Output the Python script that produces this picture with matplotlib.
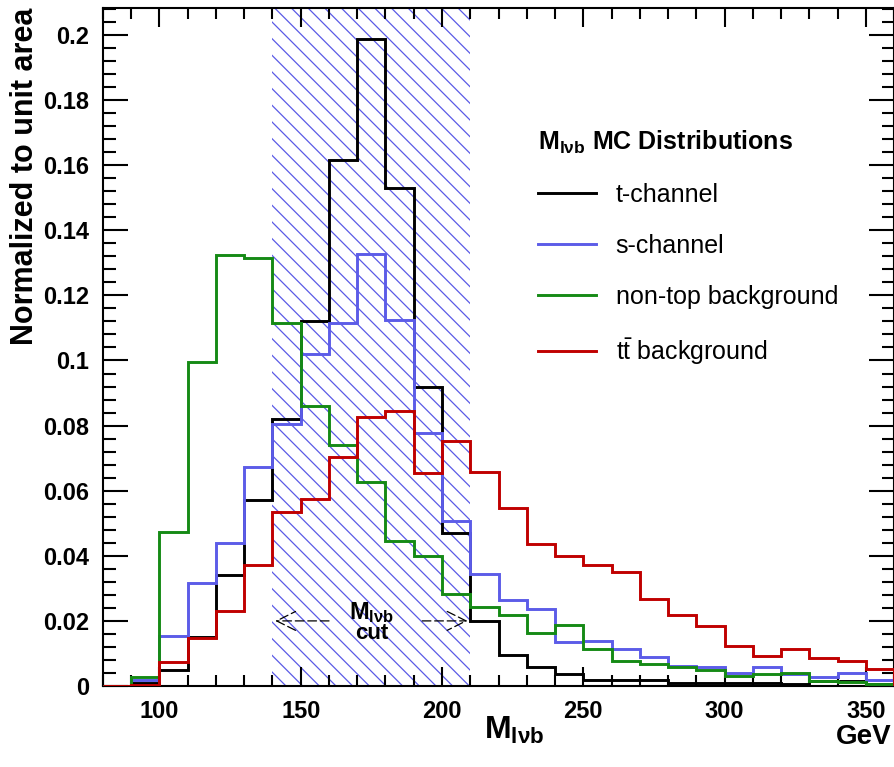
import numpy as np
import matplotlib
matplotlib.use("Agg")
import matplotlib.pyplot as plt
from matplotlib.patches import Rectangle

plt.rcParams['font.family'] = ['Liberation Sans', 'DejaVu Sans']
plt.rcParams['mathtext.fontset'] = 'custom'
plt.rcParams['mathtext.rm'] = 'Liberation Sans'
plt.rcParams['mathtext.bf'] = 'Liberation Sans:bold'
plt.rcParams['mathtext.it'] = 'Liberation Sans:italic'
plt.rcParams['hatch.linewidth'] = 0.9

# bin edges 80..360 GeV, 10 GeV wide
edges = np.arange(80, 361, 10)

t_channel = [0.0, 0.001, 0.005, 0.015, 0.034, 0.057, 0.082, 0.112, 0.1616, 0.1988,
             0.153, 0.092, 0.047, 0.020, 0.0095, 0.0057, 0.0037, 0.0018, 0.0018, 0.0018,
             0.0009, 0.0009, 0.0009, 0.0009, 0.0007, 0.0015, 0.0015, 0.0005]
s_channel = [0.0, 0.0018, 0.0154, 0.0315, 0.044, 0.0672, 0.0804, 0.102, 0.1114, 0.1327,
             0.1124, 0.0776, 0.0508, 0.0344, 0.0264, 0.0236, 0.0134, 0.0138, 0.0113, 0.009,
             0.0062, 0.0057, 0.0041, 0.0057, 0.0037, 0.0029, 0.0041, 0.0018]
non_top = [0.0, 0.0029, 0.0474, 0.0996, 0.1324, 0.1314, 0.1116, 0.086, 0.074, 0.0628,
           0.0446, 0.040, 0.0282, 0.0244, 0.0218, 0.0162, 0.0187, 0.0114, 0.0078, 0.0068,
           0.0058, 0.0049, 0.0032, 0.0036, 0.0041, 0.0016, 0.0013, 0.0005]
ttbar = [0.0, 0.0003, 0.0073, 0.0146, 0.023, 0.0372, 0.0536, 0.0573, 0.0705, 0.0827,
         0.0846, 0.0653, 0.0754, 0.0658, 0.0546, 0.0435, 0.040, 0.0372, 0.0351, 0.0266,
         0.0218, 0.0185, 0.0124, 0.0092, 0.0114, 0.0085, 0.0078, 0.0051]

labels = ['t-channel', 's-channel', 'non-top background', r't$\bar{\rm t}$ background']
colors = ['#000000', '#5c5ce8', '#158a15', '#c00000']
cut_lo, cut_hi = 140, 210

fig = plt.figure(figsize=(8.95, 7.67), dpi=100)
ax = fig.add_axes([0.115, 0.1056, 0.884, 0.884])

# cut window
ax.add_patch(Rectangle((cut_lo, 0), cut_hi - cut_lo, 1, fill=False, hatch='\\\\',
                       edgecolor='#5a5ae6', linewidth=0, zorder=1))

for vals, lab, col in zip([t_channel, s_channel, non_top, ttbar], labels, colors):
    ax.stairs(vals, edges, color=col, linewidth=2.1, label=lab, zorder=3)

# cut annotation
ax.text(175, 0.0225, r'$\mathbf{M}_{\mathbf{l\nu b}}$', ha='center', va='center', fontsize=17, zorder=4)
ax.text(175, 0.0160, 'cut', ha='center', va='center', fontsize=16, fontweight='bold', zorder=4)
arrow = dict(arrowstyle='->', linestyle=(0, (7, 3)), linewidth=0.9, color='black',
             mutation_scale=34)
ax.annotate('', xy=(140, 0.02), xytext=(161, 0.02), arrowprops=arrow, zorder=4)
ax.annotate('', xy=(210, 0.02), xytext=(192, 0.02), arrowprops=arrow, zorder=4)

ax.set_xlim(80, 360)
ax.set_ylim(0, 0.2083)
ax.set_xticks([100, 150, 200, 250, 300, 350])
ax.set_xticks(np.arange(80, 361, 10), minor=True)
ax.set_yticks(np.arange(0, 0.201, 0.02))
ax.set_yticks(np.arange(0, 0.2081, 0.004), minor=True)
ax.set_yticklabels(['0', '0.02', '0.04', '0.06', '0.08', '0.1', '0.12', '0.14',
                    '0.16', '0.18', '0.2'])

ax.tick_params(which='both', direction='in', top=True, right=True, width=1.5,
               labelsize=17, colors='black')
ax.tick_params(axis='y', which='major', length=18, pad=10)
ax.tick_params(axis='y', which='minor', length=9)
ax.tick_params(axis='x', which='major', length=14, pad=10)
ax.tick_params(axis='x', which='minor', length=8)
for lab in ax.get_xticklabels() + ax.get_yticklabels():
    lab.set_fontweight('bold')
for sp in ax.spines.values():
    sp.set_linewidth(1.5)

ax.set_ylabel('Normalized to unit area', fontsize=22, fontweight='bold', loc='top')
ax.yaxis.set_label_coords(-0.08, 1.0)
fig.text(0.575, 0.036, r'$\mathbf{M}_{\mathbf{l\nu b}}$', fontsize=23, ha='center', va='baseline')
fig.text(0.996, 0.03, 'GeV', fontsize=20, fontweight='bold', ha='right', va='baseline')

leg = ax.legend(loc='upper left', bbox_to_anchor=(0.55, 0.822), frameon=False,
                title=r'$\mathbf{M}_{\mathbf{l\nu b}}$ MC Distributions', alignment='left',
                fontsize=18, handlelength=2.3, handletextpad=0.8, labelspacing=1.08,
                borderpad=0, borderaxespad=0)
leg.get_title().set_fontsize(18)
leg.get_title().set_fontweight('bold')

fig.savefig('out.png', dpi=100)
